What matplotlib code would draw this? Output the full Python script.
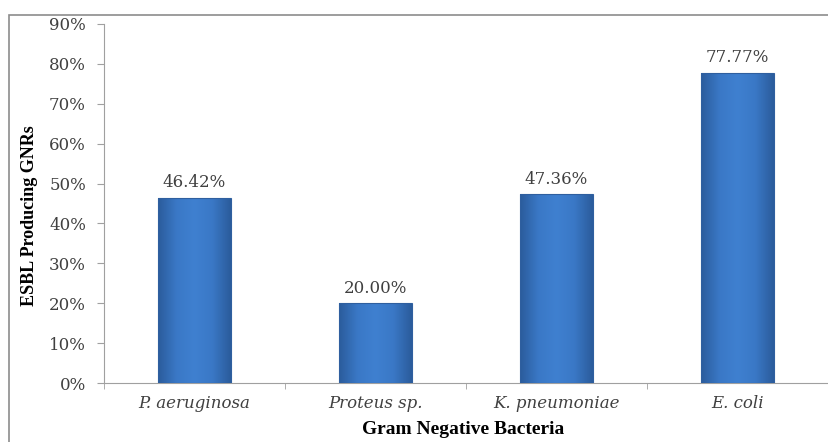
import matplotlib.pyplot as plt
import numpy as np
from matplotlib.colors import LinearSegmentedColormap
from matplotlib.patches import Rectangle

# Valeurs du graphique
bacteria = ['P. aeruginosa', 'Proteus sp.', 'K. pneumoniae', 'E. coli']
esbl_rates = [46.42, 20.00, 47.36, 77.77]
yticks = [0, 10, 20, 30, 40, 50, 60, 70, 80, 90]

plt.rcParams['font.family'] = ['DejaVu Serif']

fig = plt.figure(figsize=(8.29, 4.42), dpi=100)
ax = fig.add_axes([104 / 829, 59 / 442, 724 / 829, 359 / 442])

# Cadre extérieur
fig.patches.append(Rectangle((9 / 829, -0.1), 1.1, (427 / 442) + 0.1,
                             transform=fig.transFigure, fill=False,
                             edgecolor='#8c8c8c', linewidth=1.2))

# Barres avec dégradé horizontal
cmap = LinearSegmentedColormap.from_list(
    'bev', ['#2b5c9c', '#3a78c6', '#3f80d0', '#3a78c6', '#2b5c9c'])
grad = np.linspace(0, 1, 100).reshape(1, -1)
width = 0.4
x = np.arange(len(bacteria))
bars = ax.bar(x, esbl_rates, width=width, color='#3a78c6', zorder=2)
for b in bars:
    x0, y1 = b.get_x(), b.get_height()
    im = ax.imshow(grad, cmap=cmap, aspect='auto', zorder=3,
                   extent=(x0, x0 + width, 0, y1))
    im.set_clip_path(b)
    ax.add_patch(Rectangle((x0, 0), width, y1, fill=False,
                           edgecolor='#2f5f9f', linewidth=0.8, zorder=4))

for xi, v in zip(x, esbl_rates):
    ax.text(xi, v + 2.6, f'{v:.2f}%', ha='center', va='baseline',
            fontsize=12, color='#404040')

ax.set_xlim(-0.5, 3.456)
ax.set_ylim(0, 90)
ax.set_yticks(yticks)
ax.set_yticklabels([f'{t}%' for t in yticks], fontsize=12, color='#404040')
ax.set_xticks(x)
ax.set_xticklabels(bacteria, fontsize=12, style='italic', color='#404040')
ax.tick_params(axis='x', length=0, pad=9)
ax.set_xticks(np.arange(-0.5, 4, 1), minor=True)
ax.tick_params(axis='x', which='minor', length=4, color='#a0a0a0')
ax.tick_params(axis='y', length=5, color='#a0a0a0', pad=8)

for s in ['top', 'right']:
    ax.spines[s].set_visible(False)
for s in ['left', 'bottom']:
    ax.spines[s].set_color('#a0a0a0')

ax.set_ylabel('ESBL Producing GNRs', fontsize=13, fontweight='bold',
              family='Liberation Serif')
ax.yaxis.set_label_coords(-0.091, 0.465)
ax.set_xlabel('Gram Negative Bacteria', fontsize=14, fontweight='bold',
              family='Liberation Serif')
ax.xaxis.set_label_coords(0.496, -0.105)

fig.savefig('out.png', dpi=100)
